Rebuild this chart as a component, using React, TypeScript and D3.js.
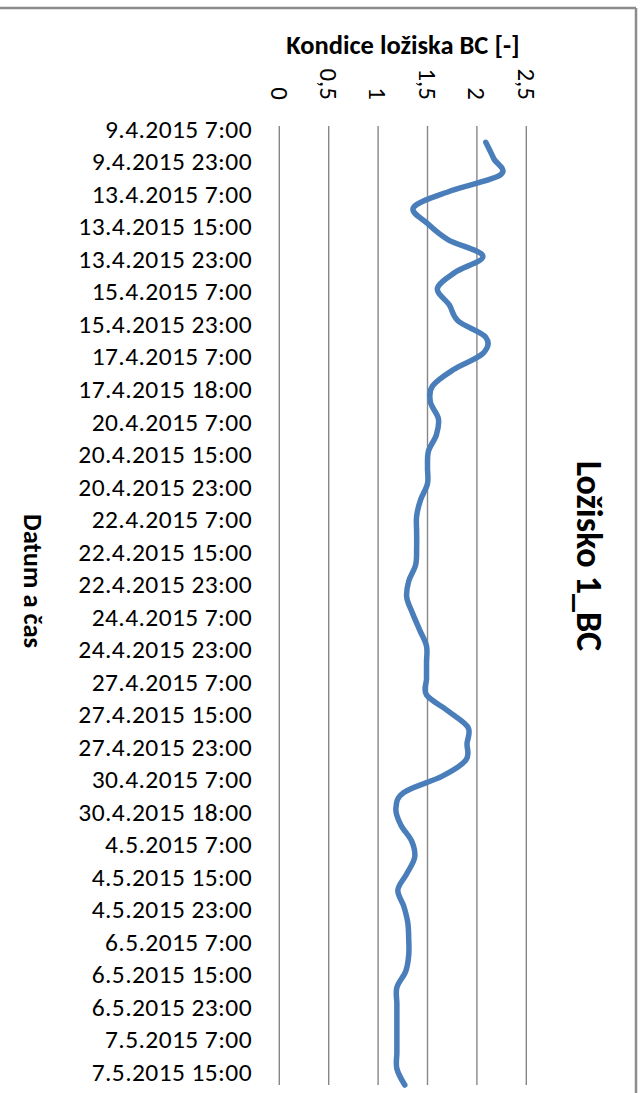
import React from "react";
import * as d3 from "d3";

const categoryLabels = [
  "9.4.2015 7:00", "9.4.2015 23:00", "13.4.2015 7:00", "13.4.2015 15:00",
  "13.4.2015 23:00", "15.4.2015 7:00", "15.4.2015 23:00", "17.4.2015 7:00",
  "17.4.2015 18:00", "20.4.2015 7:00", "20.4.2015 15:00", "20.4.2015 23:00",
  "22.4.2015 7:00", "22.4.2015 15:00", "22.4.2015 23:00", "24.4.2015 7:00",
  "24.4.2015 23:00", "27.4.2015 7:00", "27.4.2015 15:00", "27.4.2015 23:00",
  "30.4.2015 7:00", "30.4.2015 18:00", "4.5.2015 7:00", "4.5.2015 15:00",
  "4.5.2015 23:00", "6.5.2015 7:00", "6.5.2015 15:00", "6.5.2015 23:00",
  "7.5.2015 7:00", "7.5.2015 15:00",
];
const labelEvery = 2;

const values: (number | null)[] = [
  null, 2.09, 2.17, 2.24, 1.73, 1.36, 1.5, 1.71, 2.06, 1.78,
  1.6, 1.72, 1.81, 2.09, 2.06, 1.76, 1.55, 1.53, 1.61, 1.59,
  1.51, 1.5, 1.5, 1.43, 1.39, 1.39, 1.39, 1.38, 1.31, 1.29,
  1.35, 1.42, 1.49, 1.49, 1.49, 1.49, 1.71, 1.91, 1.9, 1.89,
  1.65, 1.26, 1.18, 1.23, 1.34, 1.37, 1.29, 1.2, 1.26, 1.3,
  1.31, 1.31, 1.28, 1.19, 1.19, 1.19, 1.19, 1.19, 1.19, 1.27,
];

const valueTicks = [0, 0.5, 1, 1.5, 2, 2.5];
const tickFormat = (v: number) => String(v).replace(".", ",");

const chartTitle = "Ložisko 1_BC";
const valueAxisTitle = "Kondice ložiska BC [-]";
const categoryAxisTitle = "Datum a čas";

const W = 642;
const H = 1093;
const FONT = "Carlito, Lato, 'Open Sans', sans-serif";

export default function App() {
  const plotTop = 126;
  const plotBottom = 1085;
  const x = d3.scaleLinear().domain([0, 2.5]).range([279.3, 526.3]);
  const y = d3
    .scalePoint<number>()
    .domain(d3.range(values.length))
    .range([plotTop, plotBottom]);

  const line = d3
    .line<number | null>()
    .defined((v) => v != null)
    .x((v) => x(v as number))
    .y((_, i) => y(i) as number)
    .curve(d3.curveCardinal.tension(0));

  return (
    <svg
      width={W}
      height={H}
      style={{ position: "absolute", left: 0, top: 0, background: "#fff" }}
      fontFamily={FONT}
    >
      <rect x={0} y={0} width={W} height={H} fill="#fff" />
      {/* chart area border (top and right visible) */}
      <line x1={0} x2={636} y1={8} y2={8} stroke="#8c8c8c" strokeWidth={2.5} />
      <line x1={636} x2={636} y1={8} y2={H} stroke="#8c8c8c" strokeWidth={2.5} />

      {/* gridlines */}
      {valueTicks.map((t) => (
        <line
          key={t}
          x1={x(t)}
          x2={x(t)}
          y1={plotTop}
          y2={plotBottom}
          stroke="#878787"
          strokeWidth={1.4}
        />
      ))}

      {/* value tick labels, rotated */}
      {valueTicks.map((t) => (
        <text
          key={t}
          transform={`translate(${x(t)},100) rotate(90)`}
          textAnchor="end"
          dy="0.35em"
          fontSize={25}
          fill="#000"
        >
          {tickFormat(t)}
        </text>
      ))}

      {/* value axis title */}
      <text x={403} y={54} textAnchor="middle" fontSize={26.5} fontWeight="bold">
        {valueAxisTitle}
      </text>

      {/* category labels */}
      {categoryLabels.map((l, j) => (
        <text
          key={l}
          x={252}
          y={(y(j * labelEvery) as number) + 3}
          dy="0.35em"
          textAnchor="end"
          fontSize={25.5}
          letterSpacing={0.4}
          fill="#000"
        >
          {l}
        </text>
      ))}

      {/* category axis title */}
      <text
        transform={`translate(33,581) rotate(90)`}
        textAnchor="middle"
        dy="0.35em"
        fontSize={26.5}
        fontWeight="bold"
      >
        {categoryAxisTitle}
      </text>

      {/* chart title */}
      <text
        transform={`translate(590,556) rotate(90)`}
        textAnchor="middle"
        dy="0.35em"
        fontSize={36}
        fontWeight="bold"
      >
        {chartTitle}
      </text>

      {/* series line */}
      <path
        d={line(values) || ""}
        fill="none"
        stroke="#4A7EBB"
        strokeWidth={5.5}
        strokeLinecap="round"
        strokeLinejoin="round"
      />
    </svg>
  );
}
